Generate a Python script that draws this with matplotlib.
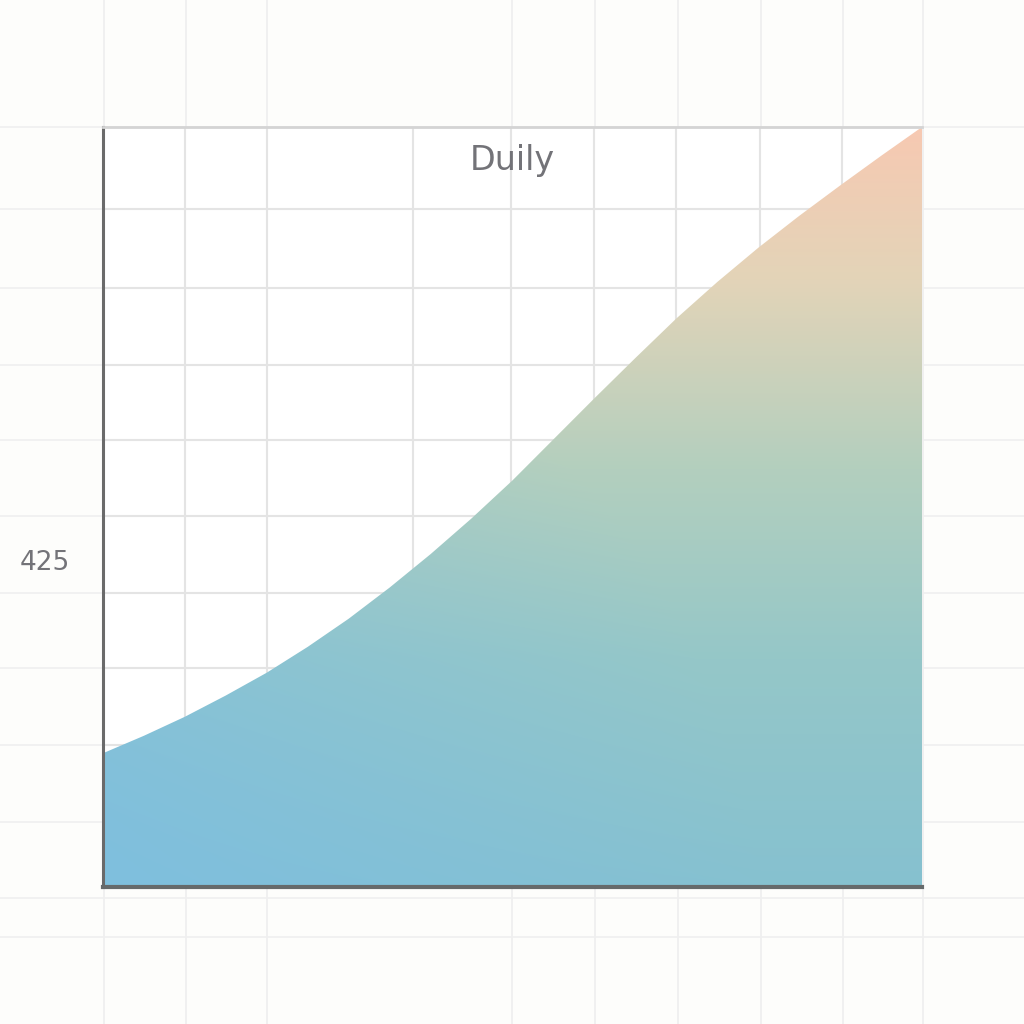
import numpy as np
import matplotlib.pyplot as plt
from matplotlib.colors import to_rgb

# Data
days = [0, 0.5, 1, 1.5, 2, 2.5, 3, 3.5, 4, 4.5, 5,
        5.5, 6, 6.5, 7, 7.5, 8, 8.5, 9, 9.5, 10]
values = [17.6, 19.9, 22.4, 25.2, 28.2, 31.6, 35.3, 39.4, 43.8, 48.5, 53.5,
          58.9, 64.3, 69.6, 74.8, 79.6, 84.1, 88.3, 92.3, 96.2, 100.0]
title = "Duily"
ytick_pos = [43]
ytick_labels = ["425"]

bg_color = "#fdfdfb"
text_color = "#737378"

fig = plt.figure(figsize=(10.24, 10.24), dpi=100, facecolor=bg_color)

# Background grid over the whole figure (pixel coordinates)
bg = fig.add_axes([0, 0, 1, 1])
bg.set_xlim(0, 1024)
bg.set_ylim(1024, 0)
bg.axis("off")
for px in [104, 186, 267, 512, 595, 678, 761, 843, 923]:
    bg.axvline(px, color="#eeeeee", lw=1.2, zorder=0)
for py in [127, 209, 288, 365, 440, 516, 593, 668, 745, 822, 898, 937]:
    bg.axhline(py, color="#efefef", lw=1.2, zorder=0)

# Main axes
ax = fig.add_axes([103 / 1024, 1 - 887 / 1024, 819 / 1024, 760 / 1024])
ax.set_facecolor("white")
ax.set_xlim(0, 10)
ax.set_ylim(0, 100)

for gx in [1.0, 2.0, 3.79, 4.98, 6.0, 7.0, 8.02, 9.02]:
    ax.axvline(gx, color="#e4e4e4", lw=1.5, zorder=1)
for gy in [89.2, 78.8, 68.7, 58.8, 48.8, 38.7, 28.8, 18.7, 8.6]:
    ax.axhline(gy, color="#e4e4e4", lw=1.5, zorder=1)

# Gradient fill under the curve
poly = ax.fill_between(days, values, 0, color="none", lw=0, zorder=2)
h, w = 300, 300
v = np.linspace(0, 1, h)[:, None]   # 0 bottom -> 1 top
u = np.linspace(0, 1, w)[None, :]   # 0 left -> 1 right
stops = [0.0, 0.3, 0.55, 0.8, 1.0]
cols = [to_rgb(c) for c in ["#86c1d0", "#95c7c8", "#b3cfbe", "#e3d4b8", "#f7c9b2"]]
img = np.zeros((h, w, 3))
for k in range(3):
    img[:, :, k] = np.interp(v[:, 0], stops, [c[k] for c in cols])[:, None]
# bluer tint toward bottom-left
blue = np.array(to_rgb("#7ebfe0"))
t = np.clip((1 - u) * (1 - v) * 1.3 - 0.25, 0, 1)[..., None] * 0.85
img = img * (1 - t) + blue * t
im = ax.imshow(img, origin="lower", extent=[0, 10, 0, 100],
               aspect="auto", zorder=2, interpolation="bilinear")
path = poly.get_paths()[0]
im.set_clip_path(path, transform=ax.transData)

# Spines and ticks
ax.spines["left"].set_color("#6a6a6a")
ax.spines["left"].set_linewidth(2.2)
ax.spines["bottom"].set_color("#666a6b")
ax.spines["bottom"].set_linewidth(3)
ax.spines["top"].set_color("#d4d4d4")
ax.spines["top"].set_linewidth(2)
ax.spines["right"].set_visible(False)
for s in ax.spines.values():
    s.set_zorder(5)
ax.set_xticks([])
ax.set_yticks(ytick_pos)
ax.set_yticklabels(ytick_labels)
ax.tick_params(axis="y", length=0, pad=24, labelsize=19, labelcolor=text_color)

ax.text(0.5, 0.978, title, transform=ax.transAxes, ha="center", va="top",
        fontsize=24, fontweight="medium", color=text_color, zorder=6)

fig.savefig("out.png", dpi=100, facecolor=bg_color)
